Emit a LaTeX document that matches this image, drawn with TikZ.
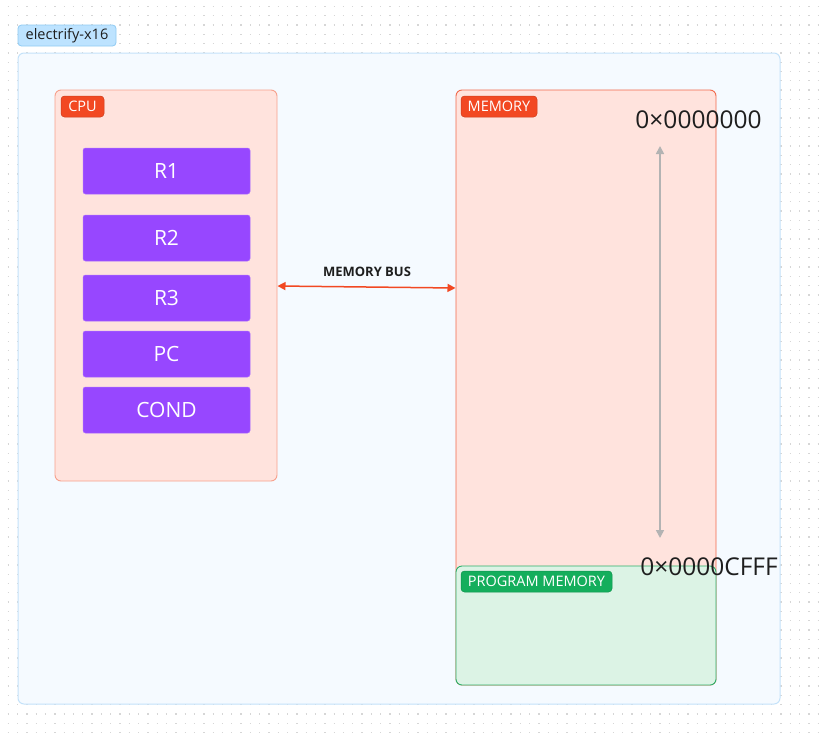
\documentclass[tikz,border=0pt]{standalone}
\usepackage{fontspec}
\setmainfont{Open Sans}
\usetikzlibrary{arrows.meta}
\definecolor{outerfill}{HTML}{F5FAFF}
\definecolor{outerline}{HTML}{C4E2FA}
\definecolor{tagblue}{HTML}{BDE3FF}
\definecolor{tagblueline}{HTML}{90CBF3}
\definecolor{redlight}{HTML}{FFE3DD}
\definecolor{cpuline}{HTML}{F7A08C}
\definecolor{memline}{HTML}{F2694B}
\definecolor{redtag}{HTML}{F24822}
\definecolor{purple}{HTML}{9747FF}
\definecolor{greenlight}{HTML}{DCF3E5}
\definecolor{greenline}{HTML}{2BB06A}
\definecolor{greentag}{HTML}{14AE5C}
\definecolor{grayarrow}{HTML}{B3B3B3}
\definecolor{griddot}{HTML}{D6D6D6}
\definecolor{textdark}{HTML}{1E1E1E}
\tikzset{
  box/.style={draw, line width=0.9pt, inner sep=0pt, outer sep=0pt, anchor=north west, rounded corners=6pt},
  tagbox/.style={inner sep=0pt, outer sep=0pt, anchor=north west, rounded corners=3.5pt, minimum height=21pt, font=\fontsize{14.5}{15}\selectfont},
  regbox/.style={fill=purple, draw=purple!80!white, line width=0.5pt, rounded corners=2.5pt, inner sep=0pt, outer sep=0pt, anchor=north west, minimum width=167pt, minimum height=46pt, text=white, font=\fontsize{21}{23}\selectfont},
  hexlabel/.style={inner sep=0pt, text=textdark, font=\fontsize{24.5}{26}\selectfont},
}
\begin{document}
\begin{tikzpicture}[x=1pt,y=-1pt]
\path[use as bounding box, fill=white] (0,0) rectangle (819,739);
% dot grid
\foreach \r in {0,...,79} {
  \draw[griddot, line width=1.3pt, dash pattern=on 1.3pt off 8.01pt]
    (7.7, {6.3+9.31*\r}) -- (819, {6.3+9.31*\r});
}
% outer container
\node[box, draw=outerline, fill=outerfill, line width=1pt, minimum width=762pt, minimum height=651pt] (outer) at (18,53) {};
\node[tagbox, draw=tagblueline, fill=tagblue, line width=0.8pt, minimum width=98pt, text=textdark] (title) at (18,25) {electrify-x16};
% CPU
\node[box, draw=cpuline, fill=redlight, minimum width=222pt, minimum height=391pt] (cpu) at (55,90) {};
\node[tagbox, fill=redtag, draw=redtag!85!black, line width=0.5pt, minimum width=43pt, text=white] (cputag) at (61,96) {CPU};
\node[regbox] (r1) at (83,148) {R1};
\node[regbox] (r2) at (83,215) {R2};
\node[regbox] (r3) at (83,275) {R3};
\node[regbox] (pc) at (83,331) {PC};
\node[regbox] (cond) at (83,387) {COND};
% Memory
\node[box, draw=memline, fill=redlight, minimum width=260pt, minimum height=595pt] (mem) at (456,90) {};
\node[tagbox, fill=redtag, draw=redtag!85!black, line width=0.5pt, minimum width=76pt, text=white] (memtag) at (461,96) {MEMORY};
\node[box, draw=greenline, fill=greenlight, minimum width=260pt, minimum height=119pt] (prog) at (456,566) {};
\node[tagbox, fill=greentag, draw=greentag!85!black, line width=0.5pt, minimum width=151pt, text=white] (progtag) at (461,571) {PROGRAM MEMORY};
% address range
\node[hexlabel] (top) at (698.5,120) {0×0000000};
\node[hexlabel] (bot) at (709,567) {0×0000CFFF};
\coordinate (a1) at (660,146);
\coordinate (a2) at (660,538);
\draw[grayarrow, line width=1.6pt, {Triangle[length=8pt,width=8pt]}-{Triangle[length=8pt,width=8pt]}] (a1) -- (a2);
% memory bus
\coordinate (b1) at (277.5,286);
\coordinate (b2) at (455.5,288);
\draw[redtag, line width=1.5pt, {Triangle[length=8pt,width=8pt]}-{Triangle[length=8pt,width=8pt]}] (b1) -- (b2);
\node[font=\bfseries\fontsize{13}{15}\selectfont, text=textdark, inner sep=0pt] (buslabel) at (367,272) {MEMORY BUS};
\end{tikzpicture}
\end{document}
